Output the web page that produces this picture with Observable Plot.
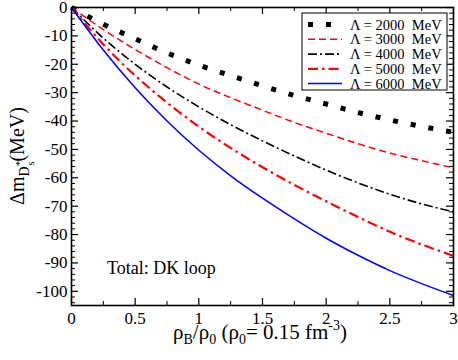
<!DOCTYPE html>
<html>
<head>
<meta charset="utf-8">
<script src="https://cdn.jsdelivr.net/npm/d3@7"></script>
<script src="https://cdn.jsdelivr.net/npm/@observablehq/plot@0.6"></script>
<style>
  html, body { margin: 0; padding: 0; background: white; }
  #chart { width: 458px; height: 360px; }
  #chart svg text { font-family: "Liberation Serif", "Times New Roman", Times, "DejaVu Serif", serif !important; }
</style>
</head>
<body>
<div id="chart"></div>
<script>
// Density ratio rho_B/rho_0
const rho = [0, 0.25, 0.5, 0.75, 1, 1.25, 1.5, 1.75, 2, 2.25, 2.5, 2.75, 3];
// Mass shift (MeV) for each cutoff Lambda
const L2000 = [0, -5.9, -11, -16, -20.3, -24, -27.6, -31, -34, -37, -39.6, -41.9, -44];
const L3000 = [0, -7.8, -14.8, -21.2, -27, -31.8, -36.2, -40.5, -44.3, -48, -51.3, -54, -56.5];
const L4000 = [0, -10.8, -20, -28, -35, -41.3, -47, -52.3, -57.3, -61.8, -65.8, -69.2, -72];
const L5000 = [0, -13, -24, -33.5, -42, -49.5, -56.3, -62.5, -68.3, -73.8, -79, -83.5, -87.5];
const L6000 = [0, -15, -28.3, -40, -50.3, -59.3, -67.2, -74.5, -81.3, -87.3, -92.7, -97.3, -101.5];

const seriesNames = ["Λ = 2000  MeV", "Λ = 3000  MeV", "Λ = 4000  MeV", "Λ = 5000  MeV", "Λ = 6000  MeV"];

const xTicks = [0, 0.5, 1, 1.5, 2, 2.5, 3];
const xMinor = [0.25, 0.75, 1.25, 1.75, 2.25, 2.75];
const yTicks = [0, -10, -20, -30, -40, -50, -60, -70, -80, -90, -100];
const yMinor = d3.range(-2, -105, -2).filter(v => v % 10 !== 0);

const styles = [
  {stroke: "black", strokeWidth: 5, strokeDasharray: "5,13"},
  {stroke: "#ff0000", strokeWidth: 1.5, strokeDasharray: "7,4"},
  {stroke: "black", strokeWidth: 1.6, strokeDasharray: "9,3,2,3"},
  {stroke: "#ff0000", strokeWidth: 2.2, strokeDasharray: "10,4,2.5,4"},
  {stroke: "#0000ff", strokeWidth: 1.5, strokeDasharray: null}
];
const allSeries = [L2000, L3000, L4000, L5000, L6000];

const W = 458, H = 360, mL = 71, mR = 5, mT = 7, mB = 55;
const pw = W - mL - mR, ph = H - mT - mB;
const major = 7, minor = 4;
const FONT = "Liberation Serif, Times New Roman, serif";

const lineMarks = allSeries.map((s, k) => Plot.line(rho.map((x, i) => ({x, y: s[i]})), {
  x: "x", y: "y", curve: "monotone-x", strokeLinecap: "butt", strokeLinejoin: "miter",
  ...Object.fromEntries(Object.entries(styles[k]).filter(([, v]) => v != null))
}));

const chart = Plot.plot({
  width: W, height: H,
  marginLeft: mL, marginRight: mR, marginTop: mT, marginBottom: mB,
  x: {domain: [0, 3]},
  y: {domain: [-105, 0]},
  style: {fontFamily: FONT, background: "white", color: "black"},
  marks: [
    Plot.axisX(xTicks, {tickSize: 0, tickPadding: 6, fontSize: 17, tickFormat: d => String(d), label: null}),
    Plot.axisY(yTicks, {tickSize: 0, tickPadding: 4, fontSize: 17, tickFormat: d => String(d), label: null}),
    // inward ticks on all four sides
    Plot.tickY(yTicks, {y: d => d, insetRight: pw - major, stroke: "black", strokeWidth: 1.2}),
    Plot.tickY(yMinor, {y: d => d, insetRight: pw - minor, stroke: "black", strokeWidth: 1}),
    Plot.tickY(yTicks, {y: d => d, insetLeft: pw - major, stroke: "black", strokeWidth: 1.2}),
    Plot.tickY(yMinor, {y: d => d, insetLeft: pw - minor, stroke: "black", strokeWidth: 1}),
    Plot.tickX(xTicks, {x: d => d, insetTop: ph - major, stroke: "black", strokeWidth: 1.2}),
    Plot.tickX(xMinor, {x: d => d, insetTop: ph - minor, stroke: "black", strokeWidth: 1}),
    Plot.tickX(xTicks, {x: d => d, insetBottom: ph - major, stroke: "black", strokeWidth: 1.2}),
    Plot.tickX(xMinor, {x: d => d, insetBottom: ph - minor, stroke: "black", strokeWidth: 1}),
    ...lineMarks,
    Plot.frame({stroke: "black", strokeWidth: 1.6})
  ]
});
document.getElementById("chart").appendChild(chart);

const svg = d3.select(chart);

// Legend
const lg = svg.append("g").attr("text-anchor", "start");
lg.append("rect").attr("x", 302).attr("y", 13).attr("width", 145).attr("height", 77)
  .attr("fill", "white").attr("stroke", "black").attr("stroke-width", 1);
const rowY = [24.5, 39.3, 54.1, 68.9, 83.5];
seriesNames.forEach((name, k) => {
  const st = styles[k];
  const ln = lg.append("line").attr("x1", 308).attr("x2", k === 0 ? 336 : 342)
    .attr("y1", rowY[k]).attr("y2", rowY[k])
    .attr("stroke", st.stroke).attr("stroke-width", st.strokeWidth);
  if (st.strokeDasharray) ln.attr("stroke-dasharray", st.strokeDasharray);
  lg.append("text").attr("x", 350).attr("y", rowY[k] + 5)
    .attr("text-anchor", "start")
    .attr("font-size", 14.5)
    .style("white-space", "pre").text(name);
});

// Annotation
svg.append("text").attr("x", 107).attr("y", 274).attr("text-anchor", "start")
  .attr("font-size", 18)
  .text("Total: DK loop");

// X axis label
const xl = svg.append("text").attr("x", 260).attr("y", 339)
  .attr("text-anchor", "middle").attr("font-size", 21)
  .style("white-space", "pre");
xl.append("tspan").text("ρ");
xl.append("tspan").attr("dy", 5).attr("font-size", 14).text("B");
xl.append("tspan").attr("dy", -5).text("/ρ");
xl.append("tspan").attr("dy", 5).attr("font-size", 14).text("0");
xl.append("tspan").attr("dy", -5).text(" (ρ");
xl.append("tspan").attr("dy", 5).attr("font-size", 14).text("0");
xl.append("tspan").attr("dy", -5).text("= 0.15 fm");
xl.append("tspan").attr("dy", -9).attr("font-size", 14).text("-3");
xl.append("tspan").attr("dy", 9).text(")");

// Y axis label
const yl = svg.append("text").attr("transform", "translate(24,156) rotate(-90)")
  .attr("text-anchor", "middle").attr("font-size", 20);
yl.append("tspan").text("Δm");
yl.append("tspan").attr("dy", 5).attr("font-size", 14).text("D");
yl.append("tspan").attr("dy", -6).attr("font-size", 11).text("*");
yl.append("tspan").attr("dx", -5).attr("dy", 11).attr("font-size", 11).text("s");
yl.append("tspan").attr("dy", -10).text("(MeV)");
</script>
</body>
</html>
